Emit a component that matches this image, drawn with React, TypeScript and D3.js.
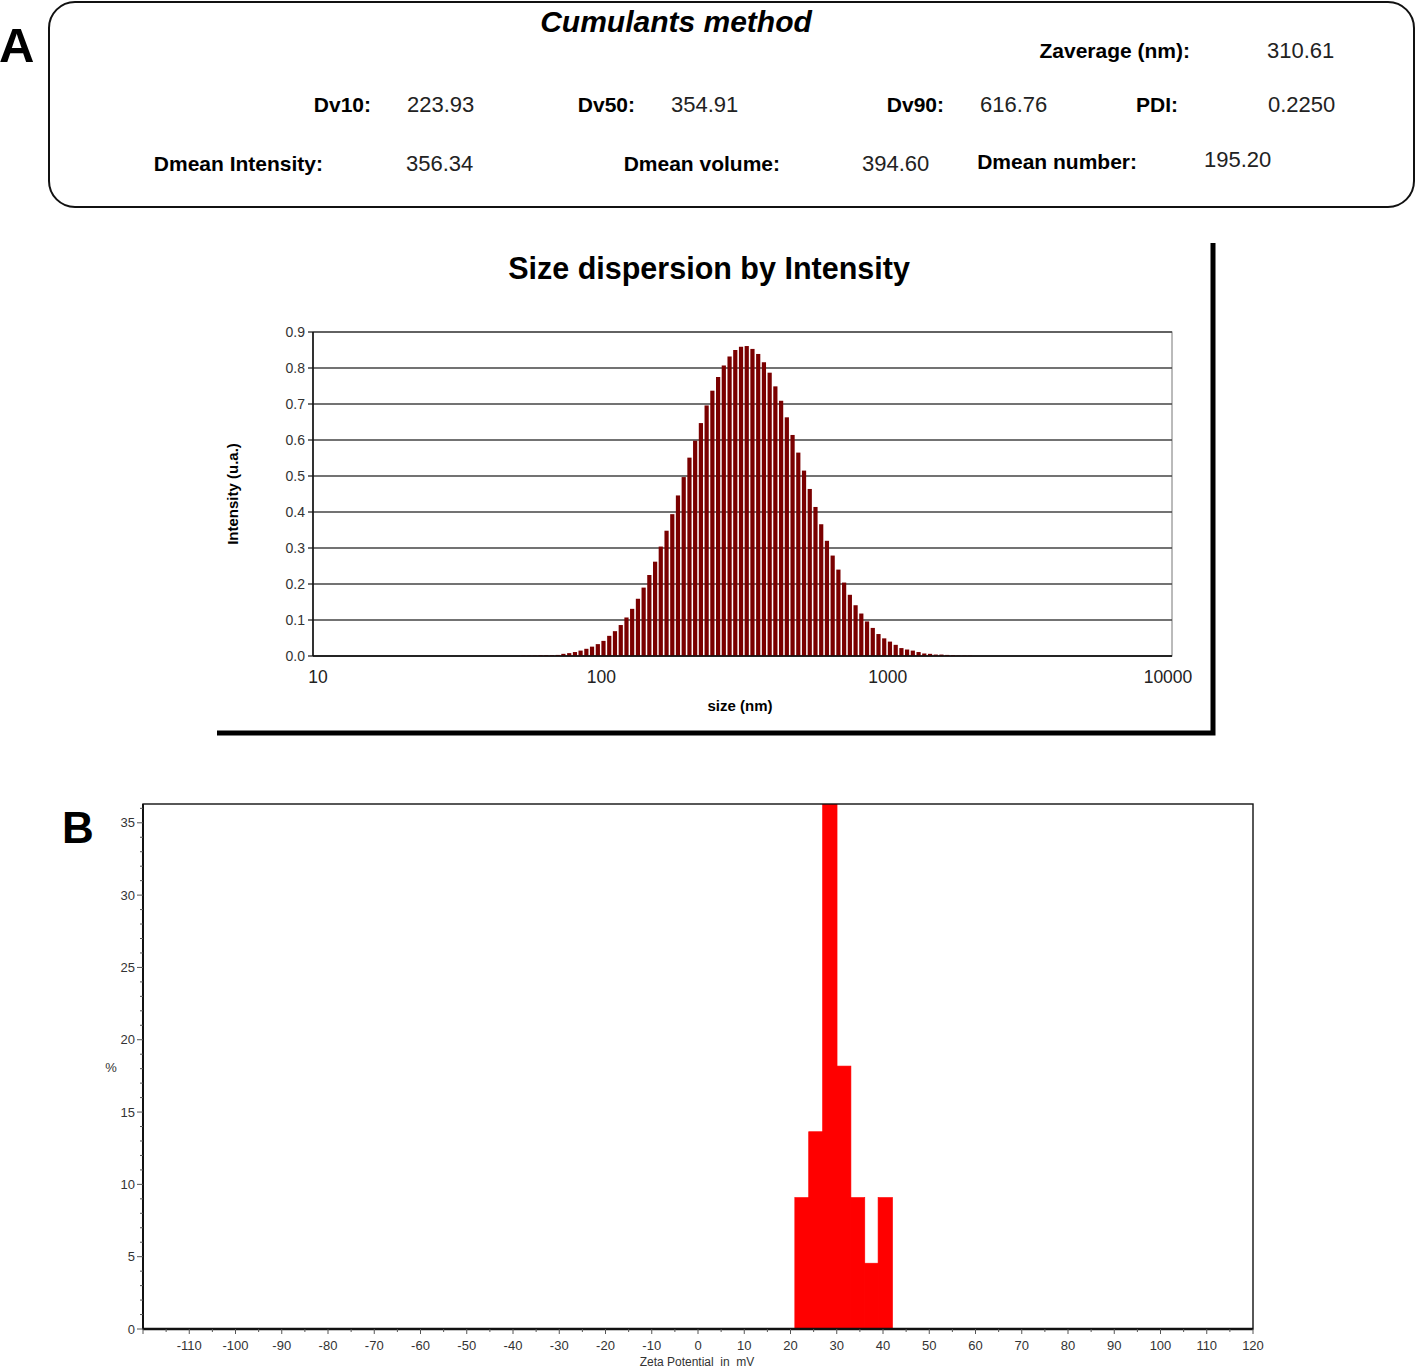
import { useEffect, useRef } from "react";
import * as d3 from "d3";

// --- panel A: cumulants summary ---
const STAT_LABELS = ["Zaverage (nm):", "Dv10:", "Dv50:", "Dv90:", "PDI:", "Dmean Intensity:", "Dmean volume:", "Dmean number:"];
const STAT_VALUES = ["310.61", "223.93", "354.91", "616.76", "0.2250", "356.34", "394.60", "195.20"];

// --- panel A: size distribution (log-spaced bins, nm) ---
const SIZE_NM = [
  54.3, 56.9, 59.5, 62.3, 65.3, 68.3, 71.6, 74.9, 78.5, 82.2,
  86.0, 90.1, 94.3, 98.8, 103.4, 108.3, 113.4, 118.8, 124.4, 130.2,
  136.4, 142.8, 149.5, 156.6, 163.9, 171.7, 179.8, 188.2, 197.1, 206.4,
  216.1, 226.3, 237.0, 248.2, 259.9, 272.1, 285.0, 298.4, 312.5, 327.2,
  342.6, 358.8, 375.7, 393.4, 411.9, 431.4, 451.7, 473.0, 495.3, 518.7,
  543.1, 568.7, 595.5, 623.6, 653.0, 683.8, 716.0, 749.8, 785.1, 822.1,
  860.9, 901.5, 943.9, 988.4, 1035, 1084, 1135, 1188, 1244, 1303,
  1364, 1429, 1496, 1566, 1640, 1718, 1798, 1883, 1972,
];
const INTENSITY = [
  0.001, 0.001, 0.001, 0.002, 0.002, 0.002, 0.003, 0.006, 0.008, 0.011,
  0.015, 0.02, 0.026, 0.033, 0.042, 0.056, 0.069, 0.086, 0.107, 0.131,
  0.159, 0.19, 0.225, 0.262, 0.304, 0.348, 0.394, 0.446, 0.497, 0.551,
  0.598, 0.647, 0.696, 0.737, 0.775, 0.807, 0.832, 0.85, 0.859, 0.861,
  0.853, 0.839, 0.816, 0.787, 0.749, 0.709, 0.663, 0.614, 0.565, 0.515,
  0.464, 0.414, 0.366, 0.32, 0.279, 0.24, 0.204, 0.17, 0.141, 0.118,
  0.096, 0.078, 0.061, 0.049, 0.04, 0.031, 0.022, 0.018, 0.015, 0.011,
  0.007, 0.006, 0.004, 0.004, 0.003, 0.002, 0.001, 0.001, 0.001,
];
const A_Y_TICKS = [0, 0.1, 0.2, 0.3, 0.4, 0.5, 0.6, 0.7, 0.8, 0.9];
const A_X_TICKS = [10, 100, 1000, 10000];

// --- panel B: zeta potential distribution ---
const ZETA_BIN_START = [21, 24, 27, 30, 33, 36, 39];
const ZETA_BIN_WIDTH = 3;
const ZETA_PCT = [9.09, 13.64, 36.36, 18.18, 9.09, 4.55, 9.09];
const B_Y_TICKS = [0, 5, 10, 15, 20, 25, 30, 35];
const B_X_TICKS = [-110, -100, -90, -80, -70, -60, -50, -40, -30, -20, -10, 0, 10, 20, 30, 40, 50, 60, 70, 80, 90, 100, 110, 120];

const SANS = "'Liberation Sans', Arial, sans-serif";

export default function App() {
  const svgRef = useRef<SVGSVGElement>(null);

  useEffect(() => {
    const svg = d3.select(svgRef.current);
    svg.selectAll("*").remove();
    svg.style("font-family", SANS);

    // ===== Panel A header box =====
    svg.append("text").attr("x", -1).attr("y", 62).attr("font-size", 49).attr("font-weight", "bold").text("A");
    svg.append("rect")
      .attr("x", 49).attr("y", 2).attr("width", 1365).attr("height", 205).attr("rx", 26)
      .attr("fill", "none").attr("stroke", "#111").attr("stroke-width", 2);
    svg.append("text").attr("x", 676).attr("y", 32).attr("text-anchor", "middle")
      .attr("font-size", 30).attr("font-weight", "bold").attr("font-style", "italic").text("Cumulants method");

    // label right edge, value left edge, baseline
    const statPos = [
      [1190, 1267, 58],
      [371, 407, 112],
      [635, 671, 112],
      [944, 980, 112],
      [1178, 1268, 112],
      [323, 406, 171],
      [780, 862, 171],
      [1137, 1204, 169],
    ];
    STAT_LABELS.forEach((lab, i) => {
      const [lx, vx, y] = statPos[i];
      svg.append("text").attr("x", lx).attr("y", y).attr("text-anchor", "end")
        .attr("font-size", 21).attr("font-weight", "bold").text(lab);
      svg.append("text").attr("x", vx).attr("y", i === 7 ? y - 2 : y)
        .attr("font-size", 22).attr("fill", "#222").text(STAT_VALUES[i]);
    });

    // ===== Panel A chart =====
    const aL = 313, aR = 1172, aT = 332, aB = 656;
    const xA = d3.scaleLog().domain([10, 10000]).range([aL, aR]);
    const yA = d3.scaleLinear().domain([0, 0.9]).range([aB, aT]);

    svg.append("text").attr("x", 709).attr("y", 279).attr("text-anchor", "middle")
      .attr("font-size", 30.5).attr("font-weight", "bold").text("Size dispersion by Intensity");

    const gA = svg.append("g");
    gA.append("rect").attr("x", aL).attr("y", aT).attr("width", aR - aL).attr("height", aB - aT)
      .attr("fill", "#fff").attr("stroke", "#777").attr("stroke-width", 1);

    gA.selectAll("line.grid").data(A_Y_TICKS).join("line")
      .attr("x1", aL - 5).attr("x2", aR)
      .attr("y1", (d) => yA(d)).attr("y2", (d) => yA(d))
      .attr("stroke", "#444").attr("stroke-width", 1.6);

    gA.selectAll("rect.bar").data(SIZE_NM).join("rect")
      .attr("x", (d) => xA(d) - 2.1)
      .attr("width", 4.2)
      .attr("y", (_d, i) => yA(INTENSITY[i]))
      .attr("height", (_d, i) => aB - yA(INTENSITY[i]))
      .attr("fill", "#7a0000");

    gA.append("line").attr("x1", aL).attr("x2", aL).attr("y1", aT).attr("y2", aB)
      .attr("stroke", "#111").attr("stroke-width", 1.6);
    gA.append("line").attr("x1", aL).attr("x2", aR).attr("y1", aB).attr("y2", aB)
      .attr("stroke", "#111").attr("stroke-width", 1.6);

    gA.selectAll("text.yl").data(A_Y_TICKS).join("text")
      .attr("x", 305).attr("y", (d) => yA(d) + 5).attr("text-anchor", "end")
      .attr("font-size", 14).attr("fill", "#333").text((d) => d.toFixed(1));
    gA.selectAll("text.xl").data(A_X_TICKS).join("text")
      .attr("x", (d, i) => xA(d) + (i === 0 ? 5 : i === A_X_TICKS.length - 1 ? -4 : 2))
      .attr("y", 683).attr("text-anchor", "middle")
      .attr("font-size", 17.5).attr("fill", "#222").text((d) => String(d));

    gA.append("text").attr("x", 740).attr("y", 711).attr("text-anchor", "middle")
      .attr("font-size", 15).attr("font-weight", "bold").text("size (nm)");
    gA.append("text").attr("transform", "translate(238,494) rotate(-90)").attr("text-anchor", "middle")
      .attr("font-size", 15).attr("font-weight", "bold").text("Intensity (u.a.)");

    // heavy frame right and bottom
    gA.append("path").attr("d", "M1213,243 V733 H217")
      .attr("fill", "none").attr("stroke", "#000").attr("stroke-width", 5);

    // ===== Panel B =====
    svg.append("text").attr("x", 62).attr("y", 843).attr("font-size", 44).attr("font-weight", "bold").text("B");

    const bL = 143, bR = 1253, bT = 804, bB = 1329;
    const xB = d3.scaleLinear().domain([-120, 120]).range([bL, bR]);
    const yB = d3.scaleLinear().domain([0, 36.3]).range([bB, bT]);

    const gB = svg.append("g");
    svg.append("clipPath").attr("id", "clipB").append("rect")
      .attr("x", bL).attr("y", bT).attr("width", bR - bL).attr("height", bB - bT);

    gB.append("g").attr("clip-path", "url(#clipB)")
      .selectAll("rect").data(ZETA_BIN_START).join("rect")
      .attr("x", (d) => xB(d) - 0.3)
      .attr("width", (d) => xB(d + ZETA_BIN_WIDTH) - xB(d) + 0.6)
      .attr("y", (_d, i) => yB(ZETA_PCT[i]))
      .attr("height", (_d, i) => bB - yB(ZETA_PCT[i]))
      .attr("fill", "#ff0000")
      .attr("stroke", "#ff0000").attr("stroke-width", 0.6);

    gB.append("rect").attr("x", bL).attr("y", bT).attr("width", bR - bL).attr("height", bB - bT)
      .attr("fill", "none").attr("stroke", "#111").attr("stroke-width", 1.4);
    gB.append("line").attr("x1", bL).attr("x2", bR).attr("y1", bB).attr("y2", bB)
      .attr("stroke", "#111").attr("stroke-width", 2.4);
    gB.append("line").attr("x1", bL).attr("x2", bL).attr("y1", bT).attr("y2", bB)
      .attr("stroke", "#111").attr("stroke-width", 2);

    // y ticks: minor every 1, major every 5
    gB.selectAll("line.yt").data(d3.range(0, 37)).join("line")
      .attr("x1", (d) => bL - (d % 5 === 0 ? 6 : 3)).attr("x2", bL)
      .attr("y1", (d) => yB(d)).attr("y2", (d) => yB(d))
      .attr("stroke", "#555").attr("stroke-width", 1);
    gB.selectAll("text.yl").data(B_Y_TICKS).join("text")
      .attr("x", 135).attr("y", (d) => yB(d) + 4.5).attr("text-anchor", "end")
      .attr("font-size", 13).attr("fill", "#333").text((d) => String(d));

    // x ticks: minor every 5, major every 10
    gB.selectAll("line.xt").data(d3.range(-120, 121, 5)).join("line")
      .attr("x1", (d) => xB(d)).attr("x2", (d) => xB(d))
      .attr("y1", bB).attr("y2", (d) => bB + (d % 10 === 0 ? 5 : 3))
      .attr("stroke", "#555").attr("stroke-width", 1);
    gB.selectAll("text.xl").data(B_X_TICKS).join("text")
      .attr("x", (d) => xB(d)).attr("y", 1350).attr("text-anchor", "middle")
      .attr("font-size", 13).attr("fill", "#333").text((d) => String(d));

    gB.append("text").attr("x", 111).attr("y", 1072).attr("text-anchor", "middle")
      .attr("font-size", 13).attr("fill", "#333").text("%");
    gB.append("text").attr("x", 697).attr("y", 1366).attr("text-anchor", "middle")
      .attr("font-size", 12).attr("fill", "#333").attr("xml:space", "preserve")
      .style("white-space", "pre").text("Zeta Potential  in  mV");
  }, []);

  return (
    <div style={{ position: "absolute", left: 0, top: 0, background: "#fff" }}>
      <svg ref={svgRef} width={1416} height={1369} style={{ display: "block" }} />
    </div>
  );
}
